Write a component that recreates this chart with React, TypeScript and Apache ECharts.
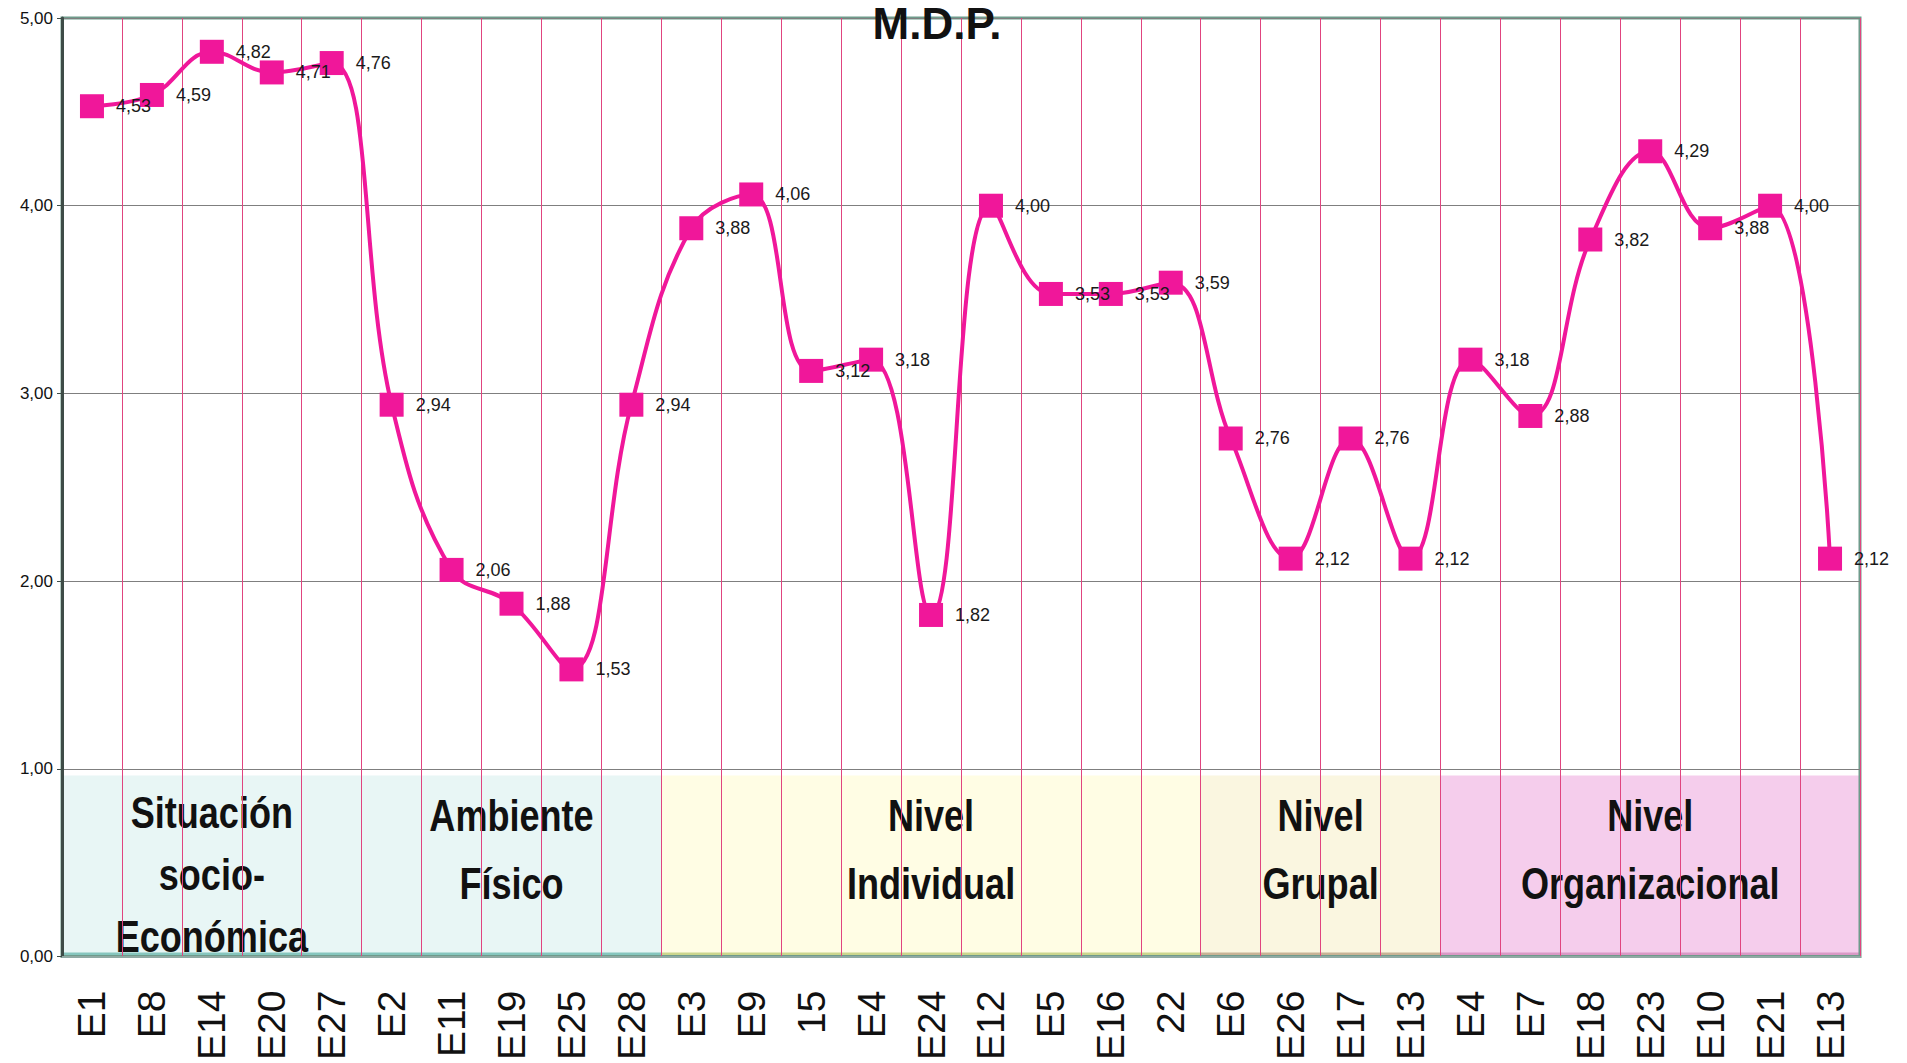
import React, { useEffect, useRef } from 'react';
import * as echarts from 'echarts';

const categories = ['E1', 'E8', 'E14', 'E20', 'E27', 'E2', 'E11', 'E19', 'E25', 'E28', 'E3', 'E9', '15', 'E4', 'E24', 'E12', 'E5', 'E16', '22', 'E6', 'E26', 'E17', 'E13', 'E4', 'E7', 'E18', 'E23', 'E10', 'E21', 'E13'];
const values = [4.53, 4.59, 4.82, 4.71, 4.76, 2.94, 2.06, 1.88, 1.53, 2.94, 3.88, 4.06, 3.12, 3.18, 1.82, 4.0, 3.53, 3.53, 3.59, 2.76, 2.12, 2.76, 2.12, 3.18, 2.88, 3.82, 4.29, 3.88, 4.0, 2.12];
const yMin = 0;
const yMax = 5;
const yStep = 1;
const groupLabels = ['Situación\nsocio-\nEconómica', 'Ambiente\nFísico', 'Nivel\nIndividual', 'Nivel\nGrupal', 'Nivel\nOrganizacional'];
const groupStart = [0, 5, 10, 19, 23];
const groupEnd = [4, 9, 18, 22, 29];
const bandTop = 0.965;
const title = 'M.D.P.';

const bandFill = ['#E8F6F5', '#E8F6F5', '#FFFDE4', '#FAF6E0', '#F5CDEC'];
const bandEdge = ['#86C6BE', '#86C6BE', '#CBD68E', '#C8B396', '#D99AC6'];
const bandLineHeight = [62, 68, 68, 68, 68];

const REG = "'Liberation Sans', Arial, sans-serif";

export default function App() {
  const ref = useRef<HTMLDivElement>(null);
  useEffect(() => {
    document.body.style.margin = '0';
    const chart = echarts.init(ref.current!, undefined, { renderer: 'svg' });
    const bandData = groupStart.map((s, i) => [s, groupEnd[i], bandTop]);
    chart.setOption({
      animation: false,
      backgroundColor: '#ffffff',
      textStyle: { fontFamily: REG },
      graphic: [
        {
          type: 'text',
          x: 937,
          y: 1,
          z: 100,
          style: {
            text: title,
            x: 0,
            y: 0,
            align: 'center',
            verticalAlign: 'top',
            fontSize: 44,
            lineHeight: 44,
            fontWeight: 'bold',
            fontFamily: REG,
            fill: '#111',
          },
        },
      ],
      grid: {
        left: 62,
        right: 47,
        top: 18,
        bottom: 105,
        show: true,
        borderColor: '#6F9B8B',
        borderWidth: 3,
        backgroundColor: 'transparent',
      },
      xAxis: {
        type: 'category',
        data: categories,
        boundaryGap: true,
        axisLine: { show: true, lineStyle: { color: '#8FA9A3', width: 2 } },
        axisTick: { show: false },
        splitLine: { show: true, interval: 0, lineStyle: { color: '#E0447F', width: 1 } },
        axisLabel: {
          interval: 0,
          rotate: 90,
          margin: 34,
          fontSize: 39,
          fontFamily: REG,
          color: '#111',
        },
      },
      yAxis: {
        type: 'value',
        min: yMin,
        max: yMax,
        interval: yStep,
        axisLine: { show: true, lineStyle: { color: '#3E4C47', width: 3 } },
        axisTick: { show: true, length: 5, lineStyle: { color: '#3E4C47', width: 1 } },
        splitLine: { show: true, lineStyle: { color: '#7F7F7F', width: 1 } },
        axisLabel: {
          fontSize: 17,
          color: '#111',
          margin: 9,
          formatter: (v: number) => v.toFixed(2).replace('.', ','),
        },
      },
      series: [
        {
          type: 'custom',
          z: -1,
          silent: true,
          encode: { x: [0, 1], y: 2 },
          data: bandData,
          renderItem: (params: any, api: any) => {
            const i = params.dataIndex;
            const s = api.value(0);
            const e = api.value(1);
            const top = api.value(2);
            const p0 = api.coord([s, 0]);
            const p1 = api.coord([e, top]);
            const w = api.size([1, 0])[0];
            const x0 = p0[0] - w / 2;
            const x1 = p1[0] + w / 2;
            return {
              type: 'group',
              children: [
                {
                  type: 'rect',
                  shape: { x: x0, y: p1[1], width: x1 - x0, height: p0[1] - p1[1] },
                  style: { fill: bandFill[i] },
                },
                {
                  type: 'line',
                  shape: { x1: x0, y1: p0[1] - 2, x2: x1, y2: p0[1] - 2 },
                  style: { stroke: bandEdge[i], lineWidth: 4 },
                },
                {
                  type: 'text',
                  z2: 10,
                  x: (x0 + x1) / 2,
                  y: p1[1] + 7,
                  scaleX: 0.82,
                  style: {
                    text: groupLabels[i],
                    x: 0,
                    y: 0,
                    align: 'center',
                    verticalAlign: 'top',
                    fontSize: 44,
                    fontWeight: 'bold',
                    fontFamily: REG,
                    lineHeight: bandLineHeight[i],
                    fill: '#111',
                  },
                },
              ],
            };
          },
        },
        {
          type: 'line',
          data: values,
          smooth: 0.4,
          symbol: 'rect',
          symbolSize: 24,
          z: 5,
          lineStyle: { color: '#F0179A', width: 4 },
          itemStyle: { color: '#F0179A' },
          label: {
            show: true,
            position: 'right',
            distance: 12,
            fontSize: 18,
            color: '#1a1a1a',
            formatter: (p: any) => Number(p.value).toFixed(2).replace('.', ','),
          },
        },
      ],
    });
    return () => chart.dispose();
  }, []);
  return <div ref={ref} style={{ width: 1907, height: 1063 }} />;
}
